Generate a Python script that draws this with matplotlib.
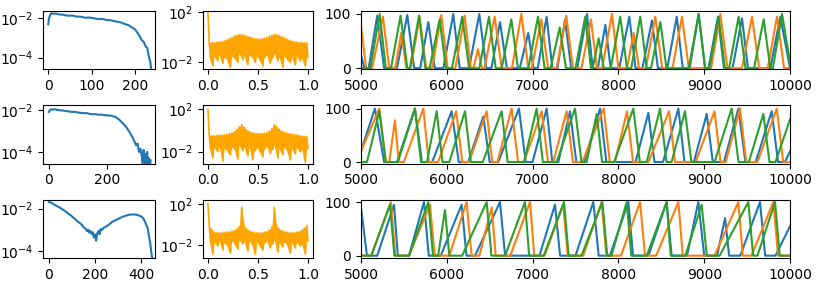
import matplotlib.pyplot as plt
import matplotlib.ticker as mticker
import numpy as np

# left column: decay curves, values are log10 of the y value
dist1_x = [0, 2, 5, 8, 12, 18, 25, 35, 45, 55, 65, 75, 85, 95, 105, 115, 125, 135, 145,
           155, 165, 175, 185, 195, 200, 205, 210, 215, 220, 225, 228, 232, 235, 238, 241]
dist1_y = [-2.3, -2.0, -1.8, -1.74, -1.77, -1.76, -1.8, -1.82, -1.87, -1.86, -1.91, -1.92,
           -1.97, -1.96, -2.0, -2.04, -2.03, -2.09, -2.1, -2.16, -2.19, -2.28, -2.35, -2.5,
           -2.56, -2.72, -2.88, -3.1, -3.2, -3.45, -3.5, -3.95, -4.2, -4.7, -5.0]

dist2_x = [0, 5, 10, 15, 20, 30, 40, 50, 60, 70, 80, 90, 100, 110, 120, 130, 140, 150, 160,
           170, 180, 190, 200, 210, 220, 230, 240, 250, 260, 270, 280, 290, 300, 305, 310,
           315, 320, 323, 326, 329, 332, 335, 338, 341, 344, 347, 350]
dist2_y = [-2.08, -1.98, -1.95, -1.97, -1.94, -1.98, -2.0, -2.01, -2.04, -2.05, -2.08, -2.07,
           -2.1, -2.12, -2.14, -2.13, -2.17, -2.19, -2.18, -2.21, -2.2, -2.23, -2.24, -2.25,
           -2.28, -2.32, -2.42, -2.56, -2.7, -2.88, -3.1, -3.36, -3.68, -3.6, -4.0, -3.85,
           -4.24, -4.8, -3.9, -4.8, -4.1, -4.8, -4.0, -4.8, -4.3, -4.8, -4.4]

dist3_x = [0, 10, 25, 50, 75, 100, 125, 140, 150, 160, 165, 170, 175, 180, 185, 190, 195, 200,
           205, 210, 215, 220, 225, 230, 240, 250, 260, 275, 300, 325, 350, 365, 380, 400, 410,
           420, 430, 435, 440, 445, 450]
dist3_y = [-1.69, -1.72, -1.82, -1.97, -2.15, -2.36, -2.6, -2.72, -2.86, -2.95, -3.05, -2.98,
           -3.12, -3.05, -3.18, -3.1, -3.35, -3.2, -3.5, -3.15, -3.05, -3.2, -2.95, -3.0,
           -2.88, -2.83, -2.75, -2.62, -2.48, -2.36, -2.28, -2.27, -2.28, -2.36, -2.45, -2.67,
           -2.95, -3.3, -3.6, -4.06, -4.4]

# middle column: spectra, upper and lower values of the dense band (log10)
spec_peak = 2.0
spec1_hi = [-0.45, -0.42, -0.44, -0.40, -0.38, -0.35, -0.30, -0.22, -0.12, -0.02,
            0.08, 0.15, 0.20, 0.22, 0.16, 0.08, 0.02, -0.04, -0.10, -0.14,
            -0.15, -0.12, -0.08, -0.02, 0.06, 0.14, 0.22, 0.20, 0.12, 0.03,
            -0.06, -0.15, -0.24, -0.32, -0.37, -0.40, -0.43, -0.42, -0.44, -0.45]
spec1_lo = [-1.6, -2.3, -1.5, -1.9, -1.4, -2.1, -1.6, -1.8, -2.4, -1.5,
            -1.7, -2.0, -1.3, -1.8, -1.5, -2.2, -1.4, -1.6, -2.0, -1.5,
            -1.8, -2.3, -1.6, -1.4, -2.1, -1.7, -1.3, -1.9, -1.6, -2.4,
            -1.5, -1.8, -2.0, -1.6, -2.2, -1.5, -1.9, -1.7, -2.3, -1.6]
spec2_hi = [-0.45, -0.50, -0.48, -0.46, -0.44, -0.42, -0.40, -0.35, -0.30, -0.22,
            -0.10, 0.10, 0.35, 0.55, 0.30, 0.05, -0.10, -0.20, -0.25, -0.28,
            -0.30, -0.28, -0.25, -0.20, -0.05, 0.20, 0.55, 0.35, 0.10, -0.05,
            -0.15, -0.22, -0.28, -0.33, -0.38, -0.42, -0.48, -0.52, -0.55, -0.58]
spec2_lo = [-1.7, -2.6, -1.6, -2.0, -1.5, -2.9, -1.7, -1.9, -2.3, -1.6,
            -1.8, -2.7, -1.4, -1.9, -1.6, -2.4, -1.5, -2.8, -1.9, -1.6,
            -2.0, -2.5, -1.7, -1.5, -2.2, -1.8, -1.4, -2.6, -1.7, -2.3,
            -1.6, -1.9, -2.8, -1.7, -2.2, -1.6, -2.0, -1.8, -3.0, -1.7]
spec3_hi = [-0.10, -0.50, -0.75, -0.80, -0.82, -0.80, -0.78, -0.75, -0.72, -0.65,
            -0.60, -0.45, -0.20, 1.65, -0.15, -0.45, -0.62, -0.72, -0.78, -0.80,
            -0.82, -0.80, -0.76, -0.70, -0.55, -0.25, 1.65, -0.20, -0.45, -0.60,
            -0.70, -0.75, -0.80, -0.80, -0.78, -0.75, -0.70, -0.55, -0.35, -0.10]
spec3_lo = [-1.6, -2.9, -1.7, -2.1, -1.6, -2.5, -1.8, -2.0, -2.8, -1.6,
            -1.9, -2.4, -1.5, -1.9, -1.7, -2.6, -1.6, -2.0, -2.9, -1.7,
            -2.1, -2.5, -1.8, -1.6, -2.3, -1.9, -1.5, -2.7, -1.8, -2.2,
            -1.7, -2.0, -2.8, -1.8, -2.3, -1.7, -2.1, -1.9, -2.9, -1.6]

# right column: three channels per row, (time, value) corner points
blue1 = [(5000, 25), (5040, 0), (5090, 0), (5190, 97), (5270, 0), (5420, 0), (5540, 98), (5620, 0),
         (5690, 0), (5785, 85), (5860, 0), (5960, 0), (6076, 100), (6150, 0), (6260, 0), (6379, 100),
         (6460, 0), (6520, 0), (6620, 85), (6700, 0), (6850, 0), (6950, 65), (7010, 0), (7060, 0),
         (7164, 95), (7230, 0), (7290, 0), (7378, 90), (7450, 0), (7520, 0), (7634, 100), (7700, 0),
         (7760, 0), (7848, 80), (7910, 0), (8010, 0), (8127, 95), (8200, 0), (8280, 0), (8391, 88),
         (8460, 0), (8570, 0), (8680, 95), (8750, 0), (8830, 0), (8935, 100), (9010, 0), (9050, 0),
         (9160, 95), (9230, 0), (9330, 0), (9440, 92), (9510, 0), (9770, 0), (9887, 95), (10000, 0)]
orange1 = [(5000, 80), (5060, 0), (5130, 0), (5256, 95), (5330, 0), (5400, 0), (5470, 65), (5530, 0),
           (5580, 0), (5684, 95), (5760, 0), (5830, 0), (5936, 98), (6010, 0), (6100, 0), (6208, 97),
           (6280, 0), (6310, 0), (6364, 35), (6410, 0), (6440, 0), (6558, 95), (6640, 0), (6760, 0),
           (6869, 100), (6950, 0), (6990, 0), (7102, 90), (7180, 0), (7280, 0), (7393, 97), (7470, 0),
           (7570, 0), (7680, 90), (7750, 0), (7810, 0), (7925, 100), (8000, 0), (8100, 0), (8178, 65),
           (8240, 0), (8320, 0), (8430, 95), (8510, 0), (8630, 0), (8741, 95), (8820, 0), (9080, 0),
           (9188, 100), (9270, 0), (9440, 0), (9557, 95), (9640, 0), (9740, 0), (9848, 95), (9930, 0),
           (10000, 0)]
green1 = [(5000, 0), (5110, 0), (5218, 100), (5290, 0), (5350, 0), (5462, 97), (5540, 0), (5570, 0),
          (5676, 97), (5750, 0), (5800, 0), (5917, 90), (5990, 0), (6060, 0), (6180, 95), (6260, 0),
          (6380, 0), (6492, 95), (6570, 0), (6640, 0), (6752, 90), (6830, 0), (6950, 0), (7063, 95),
          (7140, 0), (7210, 0), (7316, 75), (7390, 0), (7500, 0), (7614, 95), (7680, 0), (7700, 0),
          (7770, 55), (7830, 0), (7910, 0), (8022, 95), (8100, 0), (8150, 0), (8255, 95), (8330, 0),
          (8380, 0), (8489, 85), (8560, 0), (8820, 0), (8935, 100), (9010, 0), (9060, 0), (9168, 95),
          (9240, 0), (9290, 0), (9401, 95), (9480, 0), (9580, 0), (9693, 90), (9770, 0), (9800, 0),
          (9907, 100), (10000, 10)]

blue2 = [(5000, 20), (5163, 100), (5270, 0), (5420, 0), (5629, 100), (5710, 0), (5830, 0), (6057, 95),
         (6140, 0), (6250, 0), (6426, 85), (6500, 0), (6600, 0), (6841, 100), (6920, 0), (7000, 0),
         (7164, 100), (7230, 0), (7300, 0), (7436, 95), (7510, 0), (7600, 0), (7786, 100), (7860, 0),
         (8200, 0), (8349, 92), (8420, 0), (8520, 0), (8699, 100), (8770, 0), (8880, 0), (9029, 90),
         (9100, 0), (9230, 0), (9398, 100), (9480, 0), (9600, 0), (9786, 95), (9860, 0), (9940, 0),
         (10000, 20)]
orange2 = [(5000, 20), (5214, 100), (5290, 0), (5330, 0), (5396, 78), (5440, 0), (5500, 0), (5727, 100),
           (5790, 0), (5900, 0), (6110, 95), (6180, 0), (6260, 0), (6465, 95), (6530, 0), (6590, 0),
           (6756, 100), (6830, 0), (6900, 0), (7106, 95), (7180, 0), (7240, 0), (7397, 95), (7470, 0),
           (7580, 0), (7828, 100), (7900, 0), (7960, 0), (8100, 95), (8170, 0), (8350, 0), (8590, 95),
           (8660, 0), (8900, 0), (9120, 95), (9190, 0), (9250, 0), (9417, 100), (9490, 0), (9620, 0),
           (9845, 100), (9920, 0), (10000, 0)]
green2 = [(5000, 0), (5070, 0), (5214, 95), (5290, 0), (5430, 0), (5629, 100), (5700, 0), (5770, 0),
          (5882, 95), (5950, 0), (6030, 0), (6212, 95), (6280, 0), (6420, 0), (6639, 95), (6710, 0),
          (6900, 0), (7047, 100), (7120, 0), (7280, 0), (7494, 100), (7570, 0), (7630, 0), (7747, 90),
          (7810, 0), (7950, 0), (8174, 100), (8250, 0), (8330, 0), (8485, 100), (8560, 0), (8620, 0),
          (8776, 95), (8850, 0), (9120, 0), (9320, 100), (9400, 0), (9520, 0), (9689, 90), (9760, 0),
          (9830, 0), (10000, 80)]

blue3 = [(5000, 90), (5070, 0), (5190, 0), (5385, 95), (5430, 0), (5560, 0), (5734, 100), (5790, 0),
         (5930, 0), (6173, 95), (6230, 0), (6330, 0), (6620, 100), (6680, 0), (7080, 0), (7261, 95),
         (7320, 0), (7500, 0), (7708, 100), (7770, 0), (7900, 0), (8116, 100), (8170, 0), (8350, 0),
         (8562, 100), (8620, 0), (8800, 0), (8931, 100), (9000, 0), (9150, 0), (9243, 70), (9290, 0),
         (9420, 0), (9650, 100), (9710, 0), (9830, 0), (10000, 55)]
orange3 = [(5000, 0), (5120, 0), (5350, 100), (5400, 0), (5560, 0), (5804, 95), (5860, 0), (6030, 0),
           (6231, 100), (6290, 0), (6380, 0), (6523, 90), (6570, 0), (6740, 0), (6970, 100), (7020, 0),
           (7140, 0), (7358, 95), (7410, 0), (7590, 0), (7805, 100), (7860, 0), (8030, 0), (8252, 100),
           (8310, 0), (8440, 0), (8699, 100), (8750, 0), (9120, 0), (9398, 100), (9450, 0), (9550, 0),
           (9806, 100), (9860, 0), (10000, 0)]
green3 = [(5000, 0), (5120, 0), (5338, 95), (5390, 0), (5560, 0), (5785, 100), (5840, 0), (5900, 0),
          (5979, 85), (6030, 0), (6180, 0), (6465, 100), (6520, 0), (6680, 0), (6911, 100), (6960, 0),
          (7130, 0), (7366, 100), (7420, 0), (7570, 0), (7813, 100), (7870, 0), (7920, 0), (8097, 100),
          (8150, 0), (8330, 0), (8562, 100), (8610, 0), (8780, 0), (8970, 95), (9030, 0), (9180, 0),
          (9514, 100), (9570, 0), (9620, 0), (9825, 100), (9880, 0), (10000, 0)]

dists = [(dist1_x, dist1_y), (dist2_x, dist2_y), (dist3_x, dist3_y)]
specs = [(spec1_hi, spec1_lo), (spec2_hi, spec2_lo), (spec3_hi, spec3_lo)]
channels = [(blue1, orange1, green1), (blue2, orange2, green2), (blue3, orange3, green3)]

dist_xlim = [(-12, 246), (-20, 365), (-26, 461)]
dist_ylim = [(-4.59, -1.63), (-4.56, -1.76), (-4.31, -1.58)]
dist_xticks = [[0, 100, 200], [0, 200], [0, 200, 400]]
spec_ylim = [(-2.56, 2.08), (-3.14, 2.38), (-3.27, 2.39)]
chan_ylim = [(-2, 105.5), (-3, 106), (-4.3, 104.3)]

fig = plt.figure(figsize=(8.17, 2.86), dpi=100)
gs = fig.add_gridspec(3, 3, width_ratios=[112, 110, 429], left=0.0526, right=0.967,
                      top=0.9615, bottom=0.098, hspace=0.62, wspace=0.221)

for row in range(3):
    # decay curve
    ax = fig.add_subplot(gs[row, 0])
    dx, dy = dists[row]
    ax.plot(dx, 10.0 ** np.array(dy), color='C0')
    ax.set_yscale('log')
    ax.set_xlim(dist_xlim[row])
    ax.set_ylim(10.0 ** dist_ylim[row][0], 10.0 ** dist_ylim[row][1])
    ax.set_xticks(dist_xticks[row])
    ax.yaxis.set_major_locator(mticker.FixedLocator([1e-4, 1e-2]))
    ax.yaxis.set_minor_locator(mticker.NullLocator())

    # spectrum: dense band of values, drawn as a filled band plus the raw zigzag
    ax = fig.add_subplot(gs[row, 1])
    hi, lo = specs[row]
    vals = [spec_peak]
    for h, l in zip(hi, lo):
        vals += [h, l]
    freq = np.linspace(0, 1, len(vals))
    ax.fill_between(freq[1::2], 10.0 ** np.array(lo), 10.0 ** np.array(hi),
                    color='orange', lw=0)
    ax.plot(freq, 10.0 ** np.array(vals), color='orange', lw=1.2)
    ax.set_yscale('log')
    ax.set_xlim(-0.05, 1.05)
    ax.set_ylim(10.0 ** spec_ylim[row][0], 10.0 ** spec_ylim[row][1])
    ax.set_xticks([0.0, 0.5, 1.0])
    ax.yaxis.set_major_locator(mticker.FixedLocator([1e-2, 1e2]))
    ax.yaxis.set_minor_locator(mticker.NullLocator())

    # channels
    ax = fig.add_subplot(gs[row, 2])
    for i, ch in enumerate(channels[row]):
        tx, ty = zip(*ch)
        ax.plot(tx, ty, color='C%d' % i)
    ax.set_xlim(5000, 10000)
    ax.set_ylim(chan_ylim[row])
    ax.set_yticks([0, 100])

fig.savefig("out.png", dpi=100)
